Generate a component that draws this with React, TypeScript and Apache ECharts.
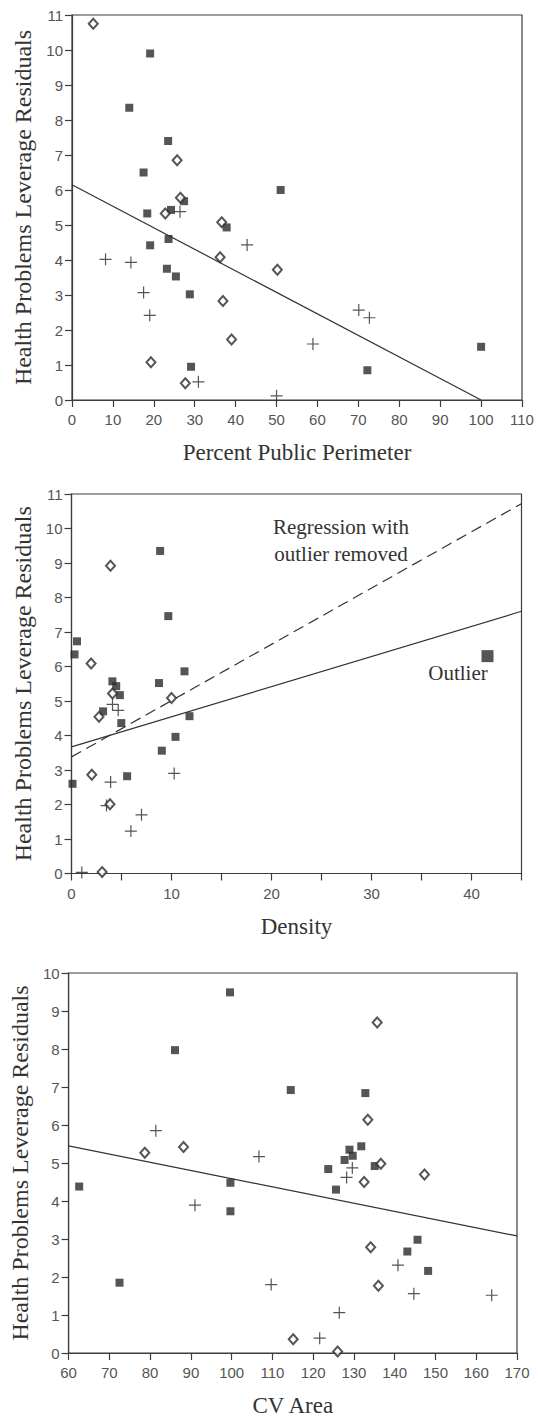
import React, { useEffect, useRef } from "react";
import * as echarts from "echarts";

// ---------- Data ----------
// Chart 1: Percent Public Perimeter
const perimSquares: [number, number][] = [
  [19.1, 9.9], [14, 8.35], [23.5, 7.4], [17.5, 6.5], [51, 6.0], [18.4, 5.33], [24.2, 5.43],
  [27.4, 5.68], [37.8, 4.93], [19.1, 4.42], [23.6, 4.6], [23.2, 3.75], [25.4, 3.53],
  [28.8, 3.02], [100, 1.52], [72.2, 0.85], [29.1, 0.95],
];
const perimDiamonds: [number, number][] = [
  [5.2, 10.75], [25.7, 6.85], [22.8, 5.33], [26.5, 5.78], [36.6, 5.08], [36.2, 4.08],
  [50.2, 3.72], [36.9, 2.83], [39, 1.73], [19.3, 1.08], [27.7, 0.48],
];
const perimPlus: [number, number][] = [
  [26.4, 5.38], [8.2, 4.02], [14.4, 3.93], [42.8, 4.43], [17.5, 3.07], [19, 2.42],
  [70.1, 2.57], [72.7, 2.35], [58.9, 1.6], [30.9, 0.52], [50, 0.12],
];
const perimFit: [number, number][] = [[0, 6.15], [100, 0]];

// Chart 2: Density
const densSquares: [number, number][] = [
  [8.86, 9.35], [9.68, 7.46], [0.55, 6.73], [0.3, 6.35], [11.3, 5.86], [8.75, 5.52],
  [4.09, 5.57], [4.47, 5.43], [4.84, 5.17], [3.16, 4.7], [4.98, 4.36], [11.8, 4.56],
  [10.4, 3.96], [9.03, 3.56], [5.56, 2.82], [0.1, 2.6],
];
const densOutlier: [number, number][] = [[41.6, 6.3]];
const densDiamonds: [number, number][] = [
  [3.9, 8.92], [1.96, 6.09], [4.1, 5.22], [10, 5.09], [2.75, 4.54], [2.03, 2.86],
  [3.85, 2.01], [3.06, 0.04],
];
const densPlus: [number, number][] = [
  [4.1, 4.9], [4.67, 4.73], [10.27, 2.9], [3.91, 2.65], [3.5, 1.97], [7.0, 1.7],
  [5.94, 1.23], [1.03, 0.03],
];
const densFit: [number, number][] = [[0, 3.67], [45, 7.6]];
const densFitNoOutlier: [number, number][] = [[0, 3.38], [45, 10.72]];

// Chart 3: CV Area
const cvSquares: [number, number][] = [
  [99.6, 9.49], [86.1, 7.97], [114.5, 6.92], [132.8, 6.84], [131.8, 5.44], [128.9, 5.35],
  [129.7, 5.19], [127.7, 5.08], [123.7, 4.84], [135.1, 4.92], [125.6, 4.3], [62.6, 4.38],
  [99.7, 4.48], [99.7, 3.73], [145.6, 2.98], [143.1, 2.67], [148.2, 2.16], [72.5, 1.85],
];
const cvDiamonds: [number, number][] = [
  [135.7, 8.7], [133.4, 6.14], [78.7, 5.27], [88.2, 5.42], [136.6, 4.98], [132.5, 4.5],
  [147.3, 4.7], [134.1, 2.78], [136, 1.77], [115.1, 0.36], [126, 0.04],
];
const cvPlus: [number, number][] = [
  [81.4, 5.85], [106.7, 5.17], [129.6, 4.87], [128.2, 4.62], [91, 3.89], [140.8, 2.31],
  [109.7, 1.8], [144.7, 1.56], [163.8, 1.52], [126.4, 1.06], [121.6, 0.39],
];
const cvFit: [number, number][] = [[60, 5.45], [170, 3.08]];

const yTitle = "Health Problems Leverage Residuals";
const xTitles = ["Percent Public Perimeter", "Density", "CV Area"];

// ---------- Styling ----------
const SERIF = '"Liberation Serif", "Times New Roman", serif';
const SANS = '"Liberation Sans", Arial, sans-serif';
const INK = "#2a2a2a";
const AXIS = "#3c3c3c";
const LABEL = "#555";
const PLUS = "path://M0,0.45H1V0.55H0Z M0.45,0H0.55V1H0.45Z";

function xAxisDef(gridIndex: number, min: number, max: number, interval: number, name: string, every?: number) {
  return {
    gridIndex, type: "value", min, max, interval, name,
    nameLocation: "middle", nameGap: 41,
    nameTextStyle: { fontFamily: SERIF, fontSize: 23, color: "#333" },
    axisLine: { show: true, onZero: false, lineStyle: { color: AXIS, width: 1.2 } },
    axisTick: { show: true, length: 7, lineStyle: { color: AXIS, width: 1.2 } },
    axisLabel: {
      fontFamily: SANS, fontSize: 15, color: LABEL, margin: 12,
      formatter: (v: number) => (every && Math.round(v) % every !== 0 ? "" : String(v)),
    },
    splitLine: { show: false },
  };
}
function yAxisDef(gridIndex: number, max: number) {
  return {
    gridIndex, type: "value", min: 0, max, interval: 1, name: yTitle,
    nameLocation: "middle", nameRotate: 90, nameGap: 33,
    nameTextStyle: { fontFamily: SERIF, fontSize: 24, color: "#333" },
    axisLine: { show: true, onZero: false, lineStyle: { color: AXIS, width: 1.2 } },
    axisTick: { show: true, length: 7, lineStyle: { color: AXIS, width: 1.2 } },
    axisLabel: { fontFamily: SANS, fontSize: 15, color: LABEL, margin: 9 },
    splitLine: { show: false },
  };
}
function scatterSet(idx: number, squares: [number, number][], diamonds: [number, number][], plus: [number, number][]) {
  return [
    { type: "scatter", xAxisIndex: idx, yAxisIndex: idx, data: plus, symbol: PLUS, symbolSize: 12,
      itemStyle: { color: INK }, z: 3 },
    { type: "scatter", xAxisIndex: idx, yAxisIndex: idx, data: squares, symbol: "rect", symbolSize: 8,
      itemStyle: { color: INK }, z: 4 },
    { type: "scatter", xAxisIndex: idx, yAxisIndex: idx, data: diamonds, symbol: "diamond", symbolSize: [9, 10],
      itemStyle: { color: "#fff", borderColor: INK, borderWidth: 2 }, z: 5 },
  ];
}
function lineDef(idx: number, data: [number, number][], dashed = false) {
  return {
    type: "line", xAxisIndex: idx, yAxisIndex: idx, data, symbol: "none", z: 2,
    lineStyle: { color: "#333", width: 1.2, type: dashed ? [11, 6] : "solid" },
  };
}

export default function App() {
  const ref = useRef<HTMLDivElement>(null);
  useEffect(() => {
    if (!ref.current) return;
    const chart = echarts.init(ref.current, undefined, { renderer: "svg" });
    const gridStyle = { show: true, borderColor: AXIS, borderWidth: 1.2, backgroundColor: "transparent" };
    chart.setOption({
      animation: false,
      backgroundColor: "#fff",
      grid: [
        { left: 72, top: 15, width: 450, height: 385, ...gridStyle },
        { left: 71.5, top: 494, width: 450, height: 379.5, ...gridStyle },
        { left: 67.6, top: 973, width: 449.4, height: 381.7, ...gridStyle },
      ],
      xAxis: [
        xAxisDef(0, 0, 110, 10, xTitles[0]),
        xAxisDef(1, 0, 45, 5, xTitles[1], 10),
        xAxisDef(2, 60, 170, 10, xTitles[2]),
      ],
      yAxis: [yAxisDef(0, 11), yAxisDef(1, 11), yAxisDef(2, 10)],
      series: [
        lineDef(0, perimFit),
        ...scatterSet(0, perimSquares, perimDiamonds, perimPlus),
        lineDef(1, densFit),
        lineDef(1, densFitNoOutlier, true),
        ...scatterSet(1, densSquares, densDiamonds, densPlus),
        { type: "scatter", xAxisIndex: 1, yAxisIndex: 1, data: densOutlier, symbol: "rect", symbolSize: 12,
          itemStyle: { color: INK }, z: 4 },
        lineDef(2, cvFit),
        ...scatterSet(2, cvSquares, cvDiamonds, cvPlus),
      ],
      graphic: [
        { type: "text", x: 341, y: 540,
          style: { text: "Regression with\noutlier removed", fontFamily: SERIF, fontSize: 21, lineHeight: 27,
            fill: "#333", textAlign: "center", textVerticalAlign: "middle" } },
        { type: "text", x: 458, y: 673,
          style: { text: "Outlier", fontFamily: SERIF, fontSize: 21, fill: "#333",
            textAlign: "center", textVerticalAlign: "middle" } },
      ],
    });
    return () => chart.dispose();
  }, []);
  return <div ref={ref} style={{ position: "absolute", left: 0, top: 0, width: 538, height: 1418 }} />;
}
